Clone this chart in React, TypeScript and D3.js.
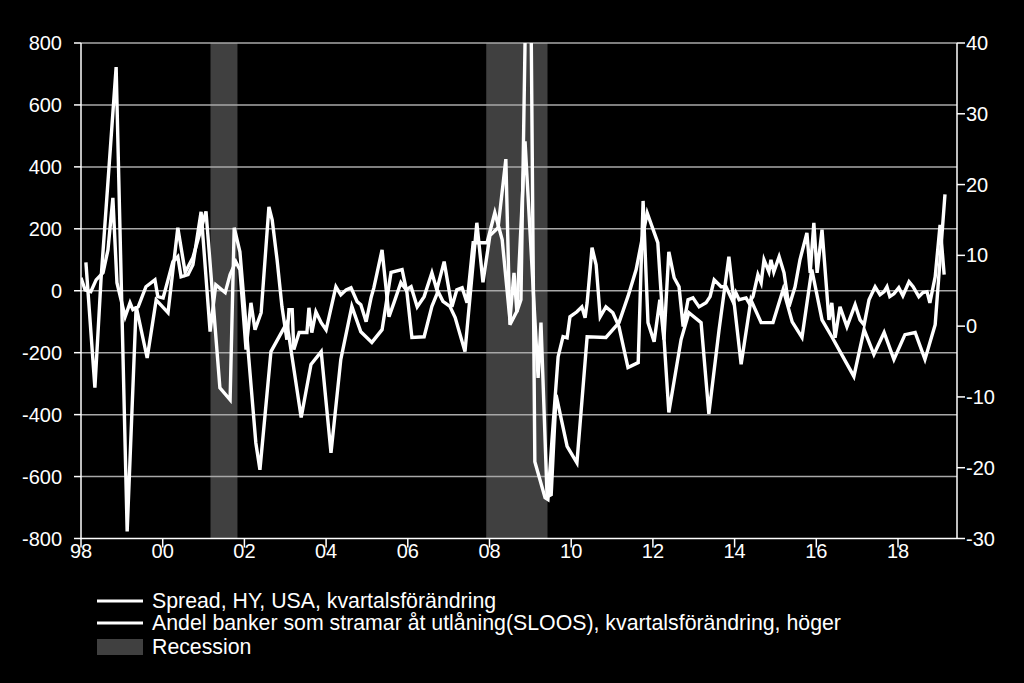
import React from "react";
import * as d3 from "d3";

// Spread, HY, USA, quarterly change (left axis, bp)
const spreadDates = [1998.00,1998.10,1998.24,1998.37,1998.54,1998.66,1998.78,1998.88,1999.08,1999.20,1999.27,1999.40,1999.59,1999.81,1999.88,2000.01,2000.13,2000.25,2000.37,2000.45,2000.62,2000.74,2000.94,2001.16,2001.30,2001.53,2001.65,2001.79,2001.89,2002.04,2002.16,2002.26,2002.41,2002.60,2002.68,2002.80,2002.92,2003.04,2003.09,2003.17,2003.21,2003.34,2003.53,2003.58,2003.65,2003.75,2003.88,2004.00,2004.24,2004.36,2004.49,2004.61,2004.76,2004.85,2004.98,2005.10,2005.17,2005.37,2005.54,2005.66,2005.83,2005.96,2006.08,2006.23,2006.40,2006.59,2006.71,2006.89,2007.08,2007.20,2007.33,2007.45,2007.60,2007.77,2007.94,2008.13,2008.31,2008.50,2008.60,2008.67,2008.77,2008.97,2009.11,2009.36,2009.43,2009.53,2009.68,2009.80,2009.90,2009.97,2010.14,2010.26,2010.34,2010.39,2010.51,2010.61,2010.71,2010.85,2011.02,2011.17,2011.39,2011.64,2011.76,2011.88,2012.03,2012.17,2012.27,2012.39,2012.52,2012.64,2012.74,2012.86,2012.98,2013.13,2013.30,2013.40,2013.50,2013.67,2013.79,2013.96,2014.03,2014.11,2014.28,2014.35,2014.45,2014.57,2014.65,2014.72,2014.84,2014.89,2014.96,2015.09,2015.21,2015.33,2015.48,2015.60,2015.77,2015.85,2015.94,2016.02,2016.14,2016.31,2016.38,2016.46,2016.58,2016.75,2016.95,2017.07,2017.17,2017.29,2017.44,2017.56,2017.66,2017.73,2017.80,2017.90,2018.02,2018.12,2018.27,2018.37,2018.51,2018.61,2018.71,2018.78,2018.91,2019.03,2019.13];
const spreadValues = [42,3,-3,35,58,132,300,26,-84,-39,-61,-52,13,35,-19,-23,35,94,110,45,52,84,255,-132,19,-6,52,94,68,-190,-39,-126,-71,271,229,100,-52,-158,-61,-61,-190,-135,-135,-55,-135,-68,-103,-126,13,-13,3,10,-35,-45,-100,-23,10,132,-84,-39,26,3,13,-52,-19,58,3,94,-52,3,10,-39,155,155,155,252,165,-94,58,-68,-29,1630,-552,-668,-674,-481,-213,-148,-152,-84,-68,-52,-87,-39,139,84,-84,-52,-71,-116,-248,-232,290,-103,-165,-29,-158,126,42,13,-116,-29,-23,-52,-39,-19,35,13,13,-35,-6,-29,-23,-39,-19,52,26,100,61,100,61,110,58,-52,13,100,187,58,219,58,197,-94,-39,-152,-52,-116,-45,-94,-110,-29,13,-13,-3,13,-19,-10,10,-16,29,13,-19,-6,-3,-39,45,213,52];

// Share of banks tightening lending standards (SLOOS), quarterly change (right axis)
const sloosDates = [1998.12,1998.34,1998.49,1998.86,1999.13,1999.35,1999.62,1999.84,2000.13,2000.37,2000.55,2000.74,2001.06,2001.40,2001.65,2001.75,2001.89,2002.28,2002.38,2002.65,2003.04,2003.39,2003.63,2003.88,2004.12,2004.36,2004.63,2004.85,2005.12,2005.37,2005.59,2005.86,2005.98,2006.10,2006.40,2006.59,2006.74,2006.86,2007.03,2007.16,2007.40,2007.69,2007.84,2008.01,2008.21,2008.40,2008.50,2008.67,2008.87,2009.19,2009.26,2009.41,2009.51,2009.63,2009.90,2010.14,2010.39,2010.85,2011.17,2011.39,2011.59,2011.86,2012.12,2012.39,2012.69,2012.88,2013.18,2013.37,2013.62,2013.86,2014.16,2014.40,2014.65,2014.94,2015.19,2015.41,2015.65,2015.89,2016.14,2016.38,2016.65,2016.92,2017.17,2017.41,2017.66,2017.90,2018.17,2018.42,2018.66,2018.91,2019.15];
const sloosValues = [9.0,-8.7,6.6,36.6,-29.0,2.8,-4.5,3.7,1.9,13.9,7.6,9.7,16.2,-8.7,-10.4,13.9,10.5,-16.5,-20.3,-3.6,0.5,-12.9,-5.4,-3.6,-17.9,-4.7,2.8,-0.8,-2.3,-0.5,7.6,8.0,4.7,-1.6,-1.5,2.8,4.9,3.5,2.8,1.2,-3.6,14.6,6.2,12.8,13.9,23.6,0.2,2.1,26.1,-7.3,0.5,-24.1,-23.8,-9.7,-17.0,-19.3,-1.5,-1.6,0.5,4.2,8.0,16.0,11.8,-12.2,-1.9,1.9,0.5,-12.4,-0.5,9.8,-5.4,3.7,0.5,0.5,5.2,0.6,-1.6,8.0,0.9,-1.5,-4.3,-7.1,-0.5,-4.0,-0.9,-4.7,-1.2,-0.9,-4.7,0.2,18.6];

const recessionStarts = [2001.17, 2007.92];
const recessionEnds = [2001.83, 2009.42];

const leftTicks = [800, 600, 400, 200, 0, -200, -400, -600, -800];
const rightTicks = [40, 30, 20, 10, 0, -10, -20, -30];
const xTickYears = [1998, 2000, 2002, 2004, 2006, 2008, 2010, 2012, 2014, 2016, 2018];
const xTickLabels = ["98", "00", "02", "04", "06", "08", "10", "12", "14", "16", "18"];

const legendLabels = [
  "Spread, HY, USA, kvartalsförändring",
  "Andel banker som stramar åt utlåning(SLOOS), kvartalsförändring, höger",
  "Recession",
];

const W = 1024;
const H = 683;
const L = 81;
const R = 957;
const T = 43;
const B = 538.5;
const FONT = "'Liberation Sans', Arial, Helvetica, sans-serif";

export default function App() {
  const x = d3.scaleLinear().domain([1998, 1998 + (R - L) / 40.85]).range([L, R]);
  const yL = d3.scaleLinear().domain([-800, 800]).range([B, T]);
  const yR = d3.scaleLinear().domain([-30, 40]).range([B, T]);

  const spreadPts = spreadDates.map((d, i) => [d, spreadValues[i]] as [number, number]);
  const sloosPts = sloosDates.map((d, i) => [d, sloosValues[i]] as [number, number]);
  const lineL = d3.line<[number, number]>().x((d) => x(d[0])).y((d) => yL(d[1]));
  const lineR = d3.line<[number, number]>().x((d) => x(d[0])).y((d) => yR(d[1]));

  const legendY = [601, 623, 647];

  return (
    <div style={{ position: "absolute", left: 0, top: 0, width: W, height: H, background: "#000" }}>
      <svg width={W} height={H} style={{ display: "block" }}>
        <rect x={0} y={0} width={W} height={H} fill="#000" />
        <defs>
          <clipPath id="plotclip">
            <rect x={L} y={T} width={R - L} height={B - T} />
          </clipPath>
        </defs>
        {recessionStarts.map((s, i) => (
          <rect key={"rec" + i} x={x(s)} y={T} width={x(recessionEnds[i]) - x(s)} height={B - T} fill="#404040" />
        ))}
        {leftTicks.filter((t) => t !== -800).map((t) => (
          <line key={"g" + t} x1={L} x2={R} y1={yL(t)} y2={yL(t)} stroke="#a8a8a8" strokeWidth={1.5} />
        ))}
        <g clipPath="url(#plotclip)">
          <path d={lineR(sloosPts) || ""} fill="none" stroke="#fff" strokeWidth={3.4} strokeLinejoin="miter" />
          <path d={lineL(spreadPts) || ""} fill="none" stroke="#fff" strokeWidth={3.4} strokeLinejoin="miter" />
        </g>
        {/* axes */}
        <line x1={L} x2={L} y1={T} y2={B} stroke="#fff" strokeWidth={1.5} />
        <line x1={R} x2={R} y1={T} y2={B} stroke="#fff" strokeWidth={1.5} />
        <line x1={L} x2={R} y1={B} y2={B} stroke="#fff" strokeWidth={1.5} />
        {leftTicks.map((t) => (
          <g key={"lt" + t}>
            <line x1={L - 7} x2={L} y1={yL(t)} y2={yL(t)} stroke="#fff" strokeWidth={1.5} />
            <text x={62} y={yL(t)} dy="0.35em" textAnchor="end" fill="#fff" fontSize={20} fontFamily={FONT}>{t}</text>
          </g>
        ))}
        {rightTicks.map((t) => (
          <g key={"rt" + t}>
            <line x1={R} x2={R + 8} y1={yR(t)} y2={yR(t)} stroke="#fff" strokeWidth={1.5} />
            <text x={966} y={yR(t)} dy="0.35em" textAnchor="start" fill="#fff" fontSize={20} fontFamily={FONT}>{t}</text>
          </g>
        ))}
        {xTickYears.map((yr, i) => (
          <g key={"xt" + yr}>
            <line x1={x(yr)} x2={x(yr)} y1={B} y2={B + 9} stroke="#fff" strokeWidth={1.5} />
            <text x={x(yr)} y={558} textAnchor="middle" fill="#fff" fontSize={20} fontFamily={FONT}>{xTickLabels[i]}</text>
          </g>
        ))}
        {/* legend */}
        <line x1={97} x2={143} y1={legendY[0]} y2={legendY[0]} stroke="#fff" strokeWidth={3} />
        <line x1={97} x2={143} y1={legendY[1]} y2={legendY[1]} stroke="#fff" strokeWidth={3} />
        <rect x={97} y={legendY[2] - 8} width={46} height={16} fill="#404040" />
        {legendLabels.map((lab, i) => (
          <text key={"lg" + i} x={152} y={legendY[i]} dy="0.35em" fill="#fff" fontSize={21.3} fontFamily={FONT}>{lab}</text>
        ))}
      </svg>
    </div>
  );
}
